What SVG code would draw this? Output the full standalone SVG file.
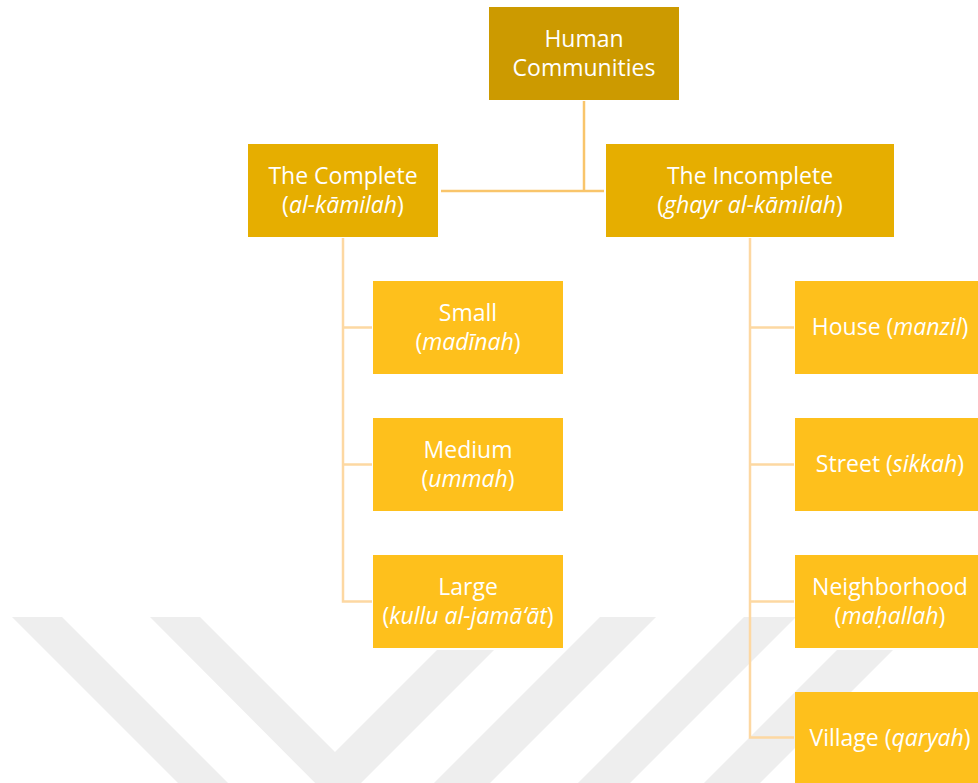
<svg xmlns="http://www.w3.org/2000/svg" width="978" height="783" viewBox="0 0 978 783">
<style>
.t{font-family:"Open Sans","Liberation Sans",sans-serif;font-size:23px;fill:#ffffff;text-anchor:middle}
.i{font-style:italic}
.root{fill:#CC9A00}
.l1{fill:#E6AE00}
.l2{fill:#FEC01C}
.c1{fill:none;stroke:#F9C56B;stroke-width:2.5}
.c2{fill:none;stroke:#FDD8A2;stroke-width:2.5}
.wm{fill:#EEEEEE}
</style>
<rect x="0" y="0" width="978" height="783" fill="#ffffff"/>
<g id="watermark">
<polygon class="wm" points="12,617 62,617 228,783 178,783"/>
<polygon class="wm" points="150,617 200,617 335,752 437,650 494,650 338,806"/>
<polygon class="wm" points="600,617 656,617 490,783 434,783"/>
<polygon class="wm" points="744,617 796,617 630,783 578,783"/>
<polygon class="wm" points="837,650 893,650 760,783 704,783"/>
</g>
<g id="connectors">
<path class="c1" d="M584,101 V191"/>
<path class="c1" d="M441,191 H604"/>
<path class="c2" d="M343,238 V601.5 H372"/>
<path class="c2" d="M343,327.5 H372"/>
<path class="c2" d="M343,464.5 H372"/>
<path class="c2" d="M750,238 V737.5 H794"/>
<path class="c2" d="M750,327.5 H794"/>
<path class="c2" d="M750,464.5 H794"/>
<path class="c2" d="M750,601.5 H794"/>
</g>
<g id="human-communities">
<rect class="root" x="489" y="7" width="190" height="93"/>
<text class="t" x="584" y="47">Human</text>
<text class="t" x="584" y="76">Communities</text>
</g>
<g id="complete">
<rect class="l1" x="248" y="144" width="190" height="93"/>
<text class="t" x="343" y="184">The Complete</text>
<text class="t" x="343" y="213">(<tspan class="i">al-kāmilah</tspan>)</text>
</g>
<g id="incomplete">
<rect class="l1" x="606" y="144" width="288" height="93"/>
<text class="t" x="750" y="184">The Incomplete</text>
<text class="t" x="750" y="213">(<tspan class="i">ghayr al-kāmilah</tspan>)</text>
</g>
<g id="small">
<rect class="l2" x="373" y="281" width="190" height="93"/>
<text class="t" x="468" y="321">Small</text>
<text class="t" x="468" y="350">(<tspan class="i">madīnah</tspan>)</text>
</g>
<g id="medium">
<rect class="l2" x="373" y="418" width="190" height="93"/>
<text class="t" x="468" y="458">Medium</text>
<text class="t" x="468" y="487">(<tspan class="i">ummah</tspan>)</text>
</g>
<g id="large">
<rect class="l2" x="373" y="555" width="190" height="93"/>
<text class="t" x="468" y="595">Large</text>
<text class="t" x="468" y="624">(<tspan class="i">kullu al-jamā‘āt</tspan>)</text>
</g>
<g id="house">
<rect class="l2" x="795" y="281" width="190" height="93"/>
<text class="t" x="890" y="335">House (<tspan class="i">manzil</tspan>)</text>
</g>
<g id="street">
<rect class="l2" x="795" y="418" width="190" height="93"/>
<text class="t" x="890" y="472">Street (<tspan class="i">sikkah</tspan>)</text>
</g>
<g id="neighborhood">
<rect class="l2" x="795" y="555" width="190" height="93"/>
<text class="t" x="890" y="595">Neighborhood</text>
<text class="t" x="890" y="624">(<tspan class="i">maḥallah</tspan>)</text>
</g>
<g id="village">
<rect class="l2" x="795" y="692" width="190" height="93"/>
<text class="t" x="890" y="746">Village (<tspan class="i">qaryah</tspan>)</text>
</g>
</svg>
